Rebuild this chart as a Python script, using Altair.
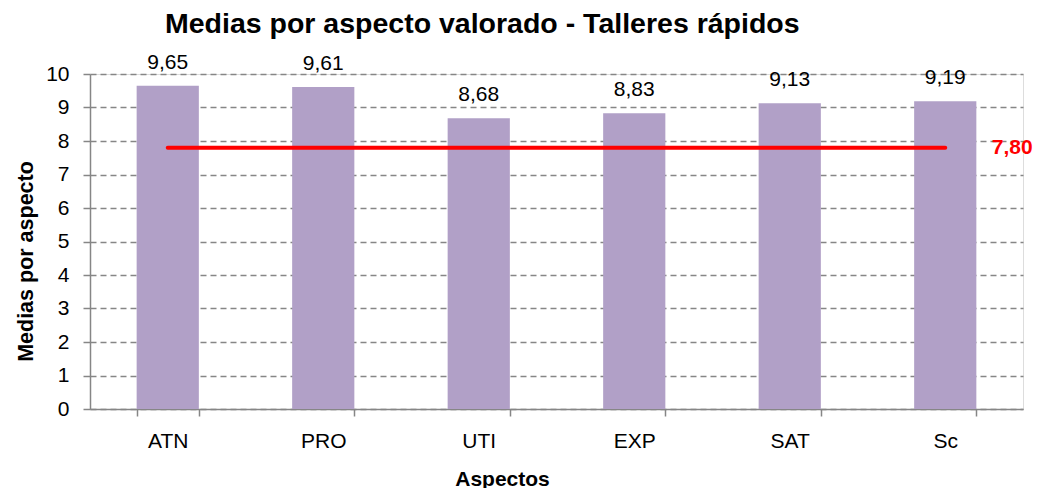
import altair as alt
import pandas as pd

aspectos = ["ATN", "PRO", "UTI", "EXP", "SAT", "Sc"]
medias = [9.65, 9.61, 8.68, 8.83, 9.13, 9.19]
media_global = 7.80
media_global_label = "7,80"
y_ticks = [0, 1, 2, 3, 4, 5, 6, 7, 8, 9, 10]

titulo = "Medias por aspecto valorado - Talleres rápidos"
titulo_y = "Medias por aspecto"
titulo_x = "Aspectos"

df = pd.DataFrame({"aspecto": aspectos, "media": medias})
df_line = pd.DataFrame({"aspecto": [aspectos[0], aspectos[-1]],
                        "media": [media_global, media_global]})
df_lbl = pd.DataFrame({"aspecto": [aspectos[-1]], "media": [media_global],
                       "txt": [media_global_label]})

FONT = "Liberation Sans"
GRAY = "#868686"

x_enc = alt.X(
    "aspecto:N", sort=aspectos,
    scale=alt.Scale(domain=aspectos, paddingInner=0.6, paddingOuter=0.3),
    axis=alt.Axis(
        title=titulo_x, labelAngle=0, tickBand="extent", tickSize=7,
        labelPadding=14, labelFont=FONT, labelFontSize=21, labelColor="black",
        domainColor=GRAY, domainWidth=1.5, tickColor=GRAY, tickWidth=1.5,
        titleFont=FONT, titleFontSize=21, titleFontWeight="bold", titleColor="black",
        titleX=412, titleY=76, titleBaseline="alphabetic", titleAlign="center",
    ),
)
y_enc = alt.Y(
    "media:Q",
    scale=alt.Scale(domain=[0, 10], nice=False),
    axis=alt.Axis(
        title=titulo_y, values=y_ticks, tickCount=20, format="d",
        labelOverlap=False, tickSize=7, labelPadding=14,
        labelFont=FONT, labelFontSize=21, labelColor="black",
        domainColor=GRAY, domainWidth=1.5, tickColor=GRAY, tickWidth=1.5,
        grid=True, gridColor=GRAY, gridDash=[6, 4], gridWidth=1.5,
        titleFont=FONT, titleFontSize=21.5, titleFontWeight="bold", titleColor="black",
        titleX=-58, titleY=187, titleBaseline="alphabetic", titleAlign="center",
    ),
)

bars = alt.Chart(df).mark_bar(color="#B1A0C7").encode(x=x_enc, y=y_enc)

labels = alt.Chart(df).transform_calculate(
    txt="replace(format(datum.media, '.2f'), '.', ',')"
).mark_text(font=FONT, fontSize=21, color="black", baseline="alphabetic",
            dy=-17).encode(
    x=x_enc,
    y=y_enc,
    text="txt:N",
)

line = alt.Chart(df_line).mark_line(color="#FF0000", strokeWidth=4,
                                    strokeCap="round").encode(
    x=x_enc,
    y=y_enc,
)

red_lbl = alt.Chart(df_lbl).mark_text(font=FONT, fontSize=21, fontWeight="bold",
                                      color="#FF0000", baseline="middle",
                                      dx=67).encode(
    x=x_enc,
    y=y_enc,
    text="txt:N",
)

chart = alt.layer(bars, labels, line, red_lbl).properties(
    width=933, height=335,
    autosize=alt.AutoSizeParams(type="none"),
    padding={"left": 82, "top": 66, "right": 10, "bottom": 79},
    title=alt.TitleParams(
        text=titulo, anchor="start", frame="group", dx=75, offset=-10,
        baseline="alphabetic", font=FONT, fontSize=28.5, fontWeight="bold",
        color="black",
    ),
).configure_view(stroke=None).configure(background="white")

chart.save("out.html", embed_options={"renderer": "svg", "actions": False})
